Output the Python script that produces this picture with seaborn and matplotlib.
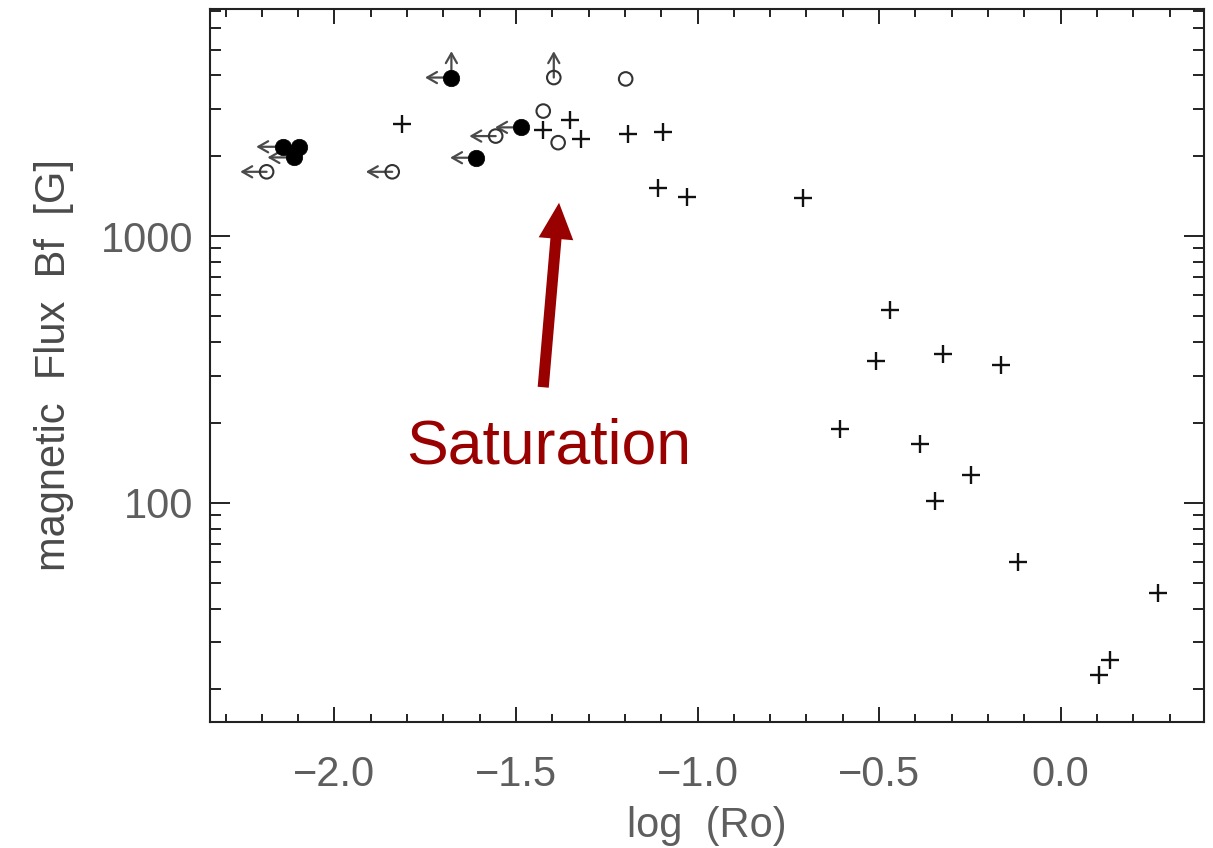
import numpy as np
import pandas as pd
import matplotlib
matplotlib.use("Agg")
import matplotlib.pyplot as plt
import seaborn as sns
from matplotlib.ticker import MultipleLocator, LogLocator, NullFormatter, FixedLocator
from matplotlib.patches import FancyArrowPatch

# ---------------- data ----------------
plus_logro = [-1.814, -1.425, -1.352, -1.321, -1.191, -1.094, -1.108, -1.030, -0.709,
              -0.469, -0.508, -0.325, -0.164, -0.609, -0.388, -0.248, -0.347, -0.117,
              0.267, 0.135, 0.106]
plus_bf = [2625, 2494, 2723, 2305, 2410, 2461, 1509, 1404, 1388,
           528, 341, 361, 329, 189, 166, 127, 102, 60,
           46, 25.7, 22.6]

open_logro = [-2.187, -1.841, -1.556, -1.425, -1.384, -1.396, -1.198]
open_bf = [1742, 1742, 2371, 2942, 2240, 3929, 3883]
open_left = [True, True, True, False, False, False, False]
open_up = [False, False, False, False, False, True, False]

filled_logro = [-2.143, -2.098, -2.112, -1.678, -1.609, -1.485]
filled_bf = [2162, 2162, 1972, 3929, 1967, 2556]
filled_left = [True, False, True, True, True, True]
filled_up = [False, False, False, True, False, False]

xticks = [-2.0, -1.5, -1.0, -0.5, 0.0]
xtick_labels = ["\u22122.0", "\u22121.5", "\u22121.0", "\u22120.5", "0.0"]
yticks = [100, 1000]
ytick_labels = ["100", "1000"]

# ---------------- style ----------------
sns.set_theme(style="white")
plt.rcParams["font.family"] = ["Liberation Sans", "DejaVu Sans"]
plt.rcParams["axes.linewidth"] = 1.5
plt.rcParams["axes.edgecolor"] = "#222222"

fig = plt.figure(figsize=(12.13, 8.48), dpi=100)
ax = fig.add_axes([0.1731, 0.1486, 0.8195, 0.8408])

df_plus = pd.DataFrame({"logRo": plus_logro, "Bf": plus_bf})
df_open = pd.DataFrame({"logRo": open_logro, "Bf": open_bf, "left": open_left, "up": open_up})
df_filled = pd.DataFrame({"logRo": filled_logro, "Bf": filled_bf, "left": filled_left, "up": filled_up})

ax.set_yscale("log")
ax.set_xlim(-2.343, 0.395)
ax.set_ylim(15.1, 7100)

# limit arrows
arrow_col = "#4a4a4a"
astyle = "<-, head_length=0.7, head_width=0.4"
for df in (df_open, df_filled):
    for _, r in df.iterrows():
        if r["left"]:
            ax.annotate("", xy=(r["logRo"], r["Bf"]), xycoords="data",
                        xytext=(-19, 0), textcoords="offset points",
                        arrowprops=dict(arrowstyle=astyle, color=arrow_col, lw=1.6,
                                        shrinkA=0, shrinkB=0, mutation_scale=10), zorder=2)
        if r["up"]:
            ax.annotate("", xy=(r["logRo"], r["Bf"]), xycoords="data",
                        xytext=(0, 19), textcoords="offset points",
                        arrowprops=dict(arrowstyle=astyle, color=arrow_col, lw=1.6,
                                        shrinkA=0, shrinkB=0, mutation_scale=10), zorder=2)

sns.scatterplot(data=df_plus, x="logRo", y="Bf", marker="+", s=165, color="#111111",
                edgecolor="#111111", linewidth=1.7, ax=ax, zorder=3, legend=False)
sns.scatterplot(data=df_open, x="logRo", y="Bf", marker="o", s=95, facecolor="none",
                edgecolor="#333333", linewidth=1.5, ax=ax, zorder=3, legend=False)
sns.scatterplot(data=df_filled, x="logRo", y="Bf", marker="o", s=140, color="#000000",
                edgecolor="#000000", linewidth=0.5, ax=ax, zorder=4, legend=False)

# ticks
ax.xaxis.set_major_locator(FixedLocator(xticks))
ax.set_xticklabels(xtick_labels)
ax.xaxis.set_minor_locator(MultipleLocator(0.1))
ax.yaxis.set_major_locator(FixedLocator(yticks))
ax.set_yticklabels(ytick_labels)
ax.yaxis.set_minor_locator(LogLocator(base=10, subs=np.arange(2, 10)))
ax.yaxis.set_minor_formatter(NullFormatter())

ax.tick_params(which="both", direction="in", top=True, right=True, bottom=True, left=True,
               color="#222222", width=1.4, labelcolor="#5e5e5e", labelsize=30)
ax.tick_params(axis="x", which="major", length=10.8, pad=24)
ax.tick_params(axis="x", which="minor", length=5.8)
ax.tick_params(axis="y", which="major", length=14.4, pad=12)
ax.tick_params(axis="y", which="minor", length=7.9)

ax.set_xlabel("log  (Ro)", fontsize=30, color="#5e5e5e", labelpad=8)
ax.set_ylabel("magnetic  Flux  Bf  [G]", fontsize=30, color="#4a4a4a", labelpad=19)

# saturation annotation
ax.add_patch(FancyArrowPatch((0.335, 0.4656), (0.3514, 0.7321), transform=ax.transAxes,
                             arrowstyle="simple, head_length=26, head_width=25, tail_width=8",
                             mutation_scale=1, color="#990000", lw=0, zorder=5))
ax.text(0.341, 0.3628, "Saturation", transform=ax.transAxes, ha="center", va="baseline",
        fontsize=45, color="#990000", family=["Liberation Sans", "DejaVu Sans"])

fig.savefig("out.png", dpi=100)
